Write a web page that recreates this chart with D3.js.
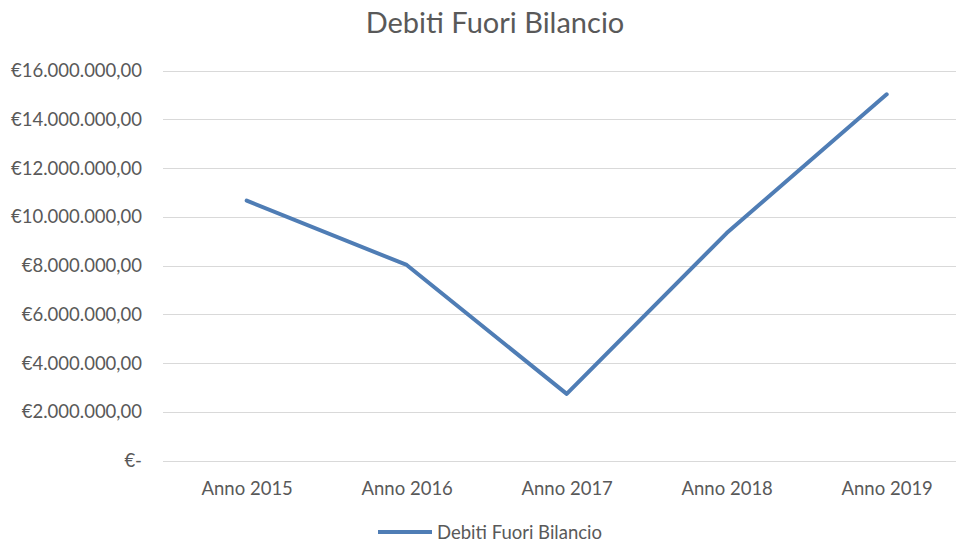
<!DOCTYPE html>
<html>
<head>
<meta charset="utf-8">
<script src="https://cdn.jsdelivr.net/npm/d3@7"></script>
<style>
  html, body { margin: 0; padding: 0; background: #fff; }
  svg { display: block; }
  text { font-family: "Lato", "Open Sans", sans-serif; fill: #595959; }
</style>
</head>
<body>
<svg id="chart" width="956" height="542"></svg>
<script>
// Debiti fuori bilancio per anno (euro)
const categories = ["Anno 2015", "Anno 2016", "Anno 2017", "Anno 2018", "Anno 2019"];
const values = [10670000, 8030000, 2740000, 9340000, 15030000];
const yTicks = [0, 2000000, 4000000, 6000000, 8000000, 10000000, 12000000, 14000000, 16000000];
const seriesName = "Debiti Fuori Bilancio";
const chartTitle = "Debiti Fuori Bilancio";

const svg = d3.select("#chart");
const plot = { left: 163, right: 967, top: 70.7, bottom: 460.7 };
const labelSize = "18.5px";

const x = d3.scalePoint()
  .domain(categories)
  .range([166.7, 966.7])
  .padding(0.5);

const y = d3.scaleLinear()
  .domain([0, 16000000])
  .range([plot.bottom, plot.top]);

// Italian euro formatting: €16.000.000,00 and "€-" for zero
const itLocale = d3.formatLocale({ decimal: ",", thousands: ".", grouping: [3], currency: ["€", ""] });
const fmt = itLocale.format("$,.2f");
const tickLabel = v => v === 0 ? "€-" : fmt(v);

// Title
svg.append("text")
  .attr("x", 495)
  .attr("y", 33)
  .attr("text-anchor", "middle")
  .style("font-size", "29px")
  .text(chartTitle);

// Horizontal gridlines
svg.append("g")
  .selectAll("line")
  .data(yTicks)
  .join("line")
  .attr("x1", plot.left)
  .attr("x2", plot.right)
  .attr("y1", d => Math.round(y(d)) + 0.5)
  .attr("y2", d => Math.round(y(d)) + 0.5)
  .attr("stroke", "#d9d9d9")
  .attr("stroke-width", 1);

// Y axis labels
const yAxis = d3.axisLeft(y).tickValues(yTicks).tickFormat(tickLabel).tickSize(0).tickPadding(0);
const gy = svg.append("g").attr("transform", "translate(142,0)").call(yAxis);
gy.select(".domain").remove();
gy.selectAll("text")
  .style("font-size", labelSize)
  .style("font-family", "Lato, 'Open Sans', sans-serif")
  .attr("fill", "#595959");

// X axis labels
const xAxis = d3.axisBottom(x).tickSize(0).tickPadding(0);
const gx = svg.append("g").attr("transform", "translate(0,0)").call(xAxis);
gx.select(".domain").remove();
gx.selectAll("text")
  .attr("y", 495)
  .attr("dy", null)
  .style("font-size", labelSize)
  .style("font-family", "Lato, 'Open Sans', sans-serif")
  .attr("fill", "#595959");

// Series line
const line = d3.line()
  .x((d, i) => x(categories[i]))
  .y(d => y(d));

svg.append("path")
  .datum(values)
  .attr("d", line)
  .attr("fill", "none")
  .attr("stroke", "#4f7db5")
  .attr("stroke-width", 4)
  .attr("stroke-linejoin", "round")
  .attr("stroke-linecap", "round");

// Legend
const lg = svg.append("g").attr("transform", "translate(378,532)");
lg.append("line")
  .attr("x1", 0).attr("x2", 54)
  .attr("y1", 0).attr("y2", 0)
  .attr("stroke", "#4f7db5")
  .attr("stroke-width", 4);
lg.append("text")
  .attr("x", 59)
  .attr("y", 7.3)
  .style("font-size", labelSize)
  .text(seriesName);
</script>
</body>
</html>
